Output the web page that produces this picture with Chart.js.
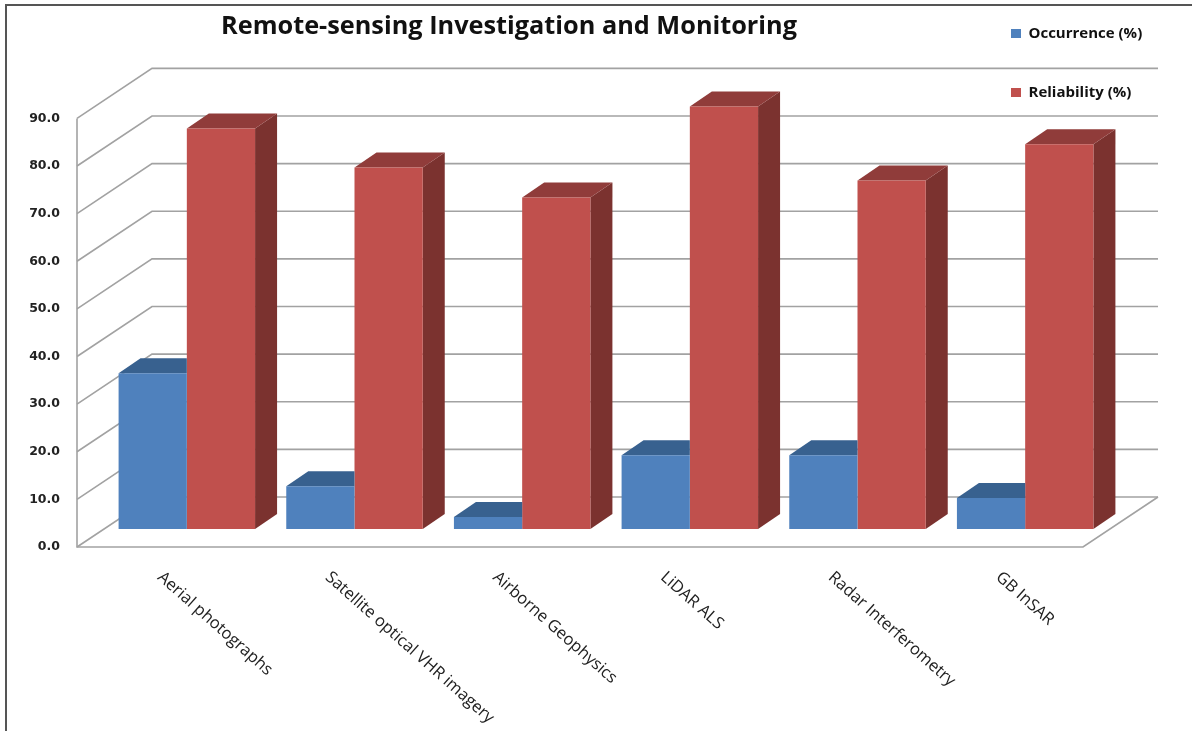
<!DOCTYPE html>
<html><head><meta charset="utf-8">
<style>html,body{margin:0;padding:0;background:#fff}canvas{display:block}</style>
<script src="https://cdn.jsdelivr.net/npm/chart.js@4"></script>
</head><body>
<canvas id="c" width="1192" height="731"></canvas>
<script>
const categories = ["Aerial photographs","Satellite optical VHR imagery","Airborne Geophysics","LiDAR ALS","Radar Interferometry","GB InSAR"];
const occurrence = [32.7, 9, 2.5, 15.5, 15.5, 6.5];
const reliability = [84.1, 75.9, 69.6, 88.7, 73.2, 80.8];
const yTicks = [0,10,20,30,40,50,60,70,80,90];

const WALL = {x0:77, dx:75, dy:50, right:1083, color:'#a2a2a2', lw:1.6};
const DEPTH = {dx:22, dy:15};
const SHADES = [{top:'#38618f', side:'#38618f'},{top:'#903c3a', side:'#7b322f'}];

function poly(ctx, pts, fill){
  ctx.beginPath();
  pts.forEach((p,i)=> i?ctx.lineTo(p[0],p[1]):ctx.moveTo(p[0],p[1]));
  ctx.closePath(); ctx.fillStyle=fill; ctx.fill();
}
const scene = {
  id:'scene',
  afterLayout(chart){
    const t=chart.titleBlock; t.left=0; t.right=1018;
    const l=chart.legend; l.left=967; l.right=1192; l.top=-18; l.bottom=300;
  },
  beforeDatasetsDraw(chart){
    const ctx=chart.ctx, y=chart.scales.y, w=WALL;
    ctx.save();
    ctx.strokeStyle='#555'; ctx.lineWidth=2;
    ctx.beginPath(); ctx.moveTo(6,731); ctx.lineTo(6,5); ctx.lineTo(1192,5); ctx.stroke();
    ctx.strokeStyle=w.color; ctx.lineWidth=w.lw;
    yTicks.forEach(v=>{
      const py=y.getPixelForValue(v);
      ctx.beginPath();
      ctx.moveTo(w.x0,py); ctx.lineTo(w.x0+w.dx,py-w.dy); ctx.lineTo(w.right+w.dx,py-w.dy);
      ctx.stroke();
    });
    const p0=y.getPixelForValue(0), p90=y.getPixelForValue(90);
    ctx.beginPath(); ctx.moveTo(w.x0,p90); ctx.lineTo(w.x0,p0); ctx.lineTo(w.right,p0); ctx.lineTo(w.right+w.dx,p0-w.dy); ctx.stroke();
    ctx.restore();
  },
  beforeDatasetDraw(chart,args){
    const ctx=chart.ctx, d=DEPTH, s=SHADES[args.index];
    const frontSeries = args.index===0;
    args.meta.data.forEach(b=>{
      const p=b.getProps(['x','y','base','width'],true);
      const L=p.x-p.width/2, R=p.x+p.width/2;
      if(frontSeries){
        // the neighbouring red bar hides everything to the right of this bar's front face
        poly(ctx,[[L,p.y],[L+d.dx,p.y-d.dy],[R,p.y-d.dy],[R,p.y]],s.top);
      }else{
        poly(ctx,[[R,p.y],[R+d.dx,p.y-d.dy],[R+d.dx,p.base-d.dy],[R,p.base]],s.side);
        poly(ctx,[[L,p.y],[L+d.dx,p.y-d.dy],[R+d.dx,p.y-d.dy],[R,p.y]],s.top);
      }
    });
  },
  afterDraw(chart){
    const ctx=chart.ctx, x=chart.scales.x;
    ctx.save();
    ctx.font='16.5px "Open Sans"'; ctx.fillStyle='#222'; ctx.textAlign='left'; ctx.textBaseline='middle';
    categories.forEach((c,i)=>{
      ctx.save();
      ctx.translate(x.getPixelForValue(i)-27,575);
      ctx.rotate(41.5*Math.PI/180);
      ctx.fillText(c,0,0);
      ctx.restore();
    });
    ctx.restore();
  }
};

new Chart(document.getElementById('c'),{
  type:'bar',
  data:{labels:categories,datasets:[
    {label:'Occurrence (%)',data:occurrence,backgroundColor:'#4f81bd',yAxisID:'yBars',categoryPercentage:0.814,barPercentage:1},
    {label:'Reliability (%)',data:reliability,backgroundColor:'#c0504d',yAxisID:'yBars',categoryPercentage:0.814,barPercentage:1}
  ]},
  options:{
    responsive:false, animation:false,
    layout:{padding:{left:0,right:83,top:0,bottom:176}},
    plugins:{
      tooltip:{enabled:false},
      title:{display:true,text:'Remote-sensing Investigation and Monitoring',color:'#111',
        font:{family:'"Open Sans"',size:25.3,weight:'bold'},padding:{top:12,bottom:28.4}},
      legend:{position:'chartArea',align:'start',
        labels:{boxWidth:10,boxHeight:9,padding:44,color:'#111',font:{family:'"Open Sans"',size:15,weight:'bold'}}}
    },
    scales:{
      x:{grid:{display:false},border:{display:false},ticks:{display:false}},
      y:{min:0,max:100,position:'left',grid:{display:false},border:{display:false},
        afterFit(s){s.width=103;},
        afterBuildTicks(s){s.ticks=[...yTicks,100].map(v=>({value:v}));},
        ticks:{padding:35,color:'#222',font:{family:'"DejaVu Sans"',size:12.5,weight:'bold'},
          callback:v=>v<=90?v.toFixed(1):''}},
      yBars:{display:false,min:-3.776,max:96.224}
    }
  },
  plugins:[scene]
});
</script>
</body></html>
